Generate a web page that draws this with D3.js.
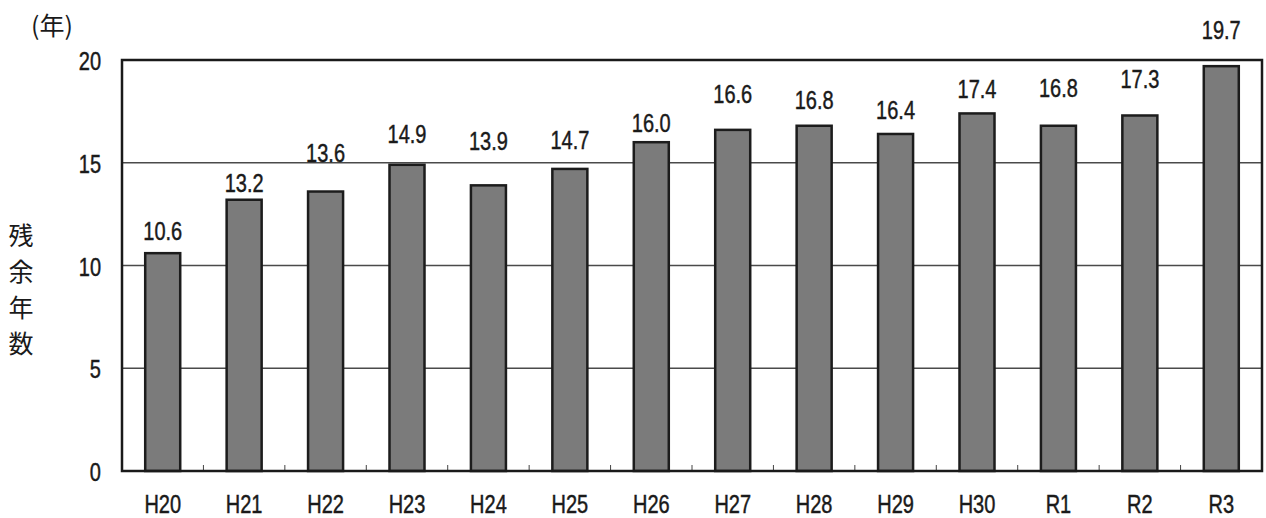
<!DOCTYPE html>
<html>
<head>
<meta charset="utf-8">
<script src="https://cdn.jsdelivr.net/npm/d3@7"></script>
<style>
  html, body { margin: 0; padding: 0; background: #fff; }
  svg { display: block; }
  .num { font-family: "Liberation Sans", Arial, sans-serif; stroke: #1a1a1a; stroke-width: 0.45px; }
  .jp { font-family: "Noto Sans CJK JP", "Noto Sans CJK SC", sans-serif; }
</style>
</head>
<body>
<svg id="chart" width="1266" height="518"></svg>
<script>
// Remaining years by fiscal year
const categories = ["H20", "H21", "H22", "H23", "H24", "H25", "H26", "H27", "H28", "H29", "H30", "R1", "R2", "R3"];
const values = [10.6, 13.2, 13.6, 14.9, 13.9, 14.7, 16.0, 16.6, 16.8, 16.4, 17.4, 16.8, 17.3, 19.7];
const yTicks = [0, 5, 10, 15, 20];
const yTitle = ["残", "余", "年", "数"];
const unitLabel = "(年)";

const svg = d3.select("#chart");
const plotL = 122, plotR = 1262, plotT = 60, plotB = 471;
const narrow = 0.8;           // horizontal squeeze for the condensed numerals
// lift (px) of each value label above its bar, hand-placed to avoid crowding
const labelLift = [13, 8, 30, 22, 35, 20, 10.5, 27, 17, 15, 15, 29, 27.5, 27];

const x = d3.scaleBand().domain(categories).range([plotL, plotR]).paddingInner(0.57).paddingOuter(0.285);
const xCat = d3.scaleBand().domain(categories).range([plotL, plotR]);
const y = d3.scaleLinear().domain([0, 20]).range([plotB, plotT]);

const place = (px, py) => `translate(${px},${py}) scale(${narrow},1)`;

// horizontal grid lines
svg.append("g").selectAll("line").data(yTicks.filter(t => t > 0 && t < 20)).join("line")
  .attr("x1", plotL).attr("x2", plotR)
  .attr("y1", d => y(d)).attr("y2", d => y(d))
  .attr("stroke", "#4a4a4a").attr("stroke-width", 1.3);

// small category separator ticks along the baseline
svg.append("g").selectAll("line").data(categories.slice(1)).join("line")
  .attr("x1", d => xCat(d)).attr("x2", d => xCat(d))
  .attr("y1", plotB).attr("y2", plotB - 6)
  .attr("stroke", "#444").attr("stroke-width", 1);

// bars
svg.append("g").selectAll("rect").data(values).join("rect")
  .attr("x", (d, i) => x(categories[i]))
  .attr("y", d => y(d))
  .attr("width", x.bandwidth())
  .attr("height", d => plotB - y(d))
  .attr("fill", "#7b7b7b")
  .attr("stroke", "#1c1c1c")
  .attr("stroke-width", 2.5);

// plot frame
svg.append("rect")
  .attr("x", plotL).attr("y", plotT)
  .attr("width", plotR - plotL).attr("height", plotB - plotT)
  .attr("fill", "none").attr("stroke", "#1a1a1a").attr("stroke-width", 2.5);

// value labels
svg.append("g").selectAll("text").data(values).join("text")
  .attr("class", "num")
  .attr("transform", (d, i) => place(x(categories[i]) + x.bandwidth() / 2, y(d) - labelLift[i]))
  .attr("text-anchor", "middle")
  .attr("font-size", 25)
  .attr("fill", "#1a1a1a")
  .text(d => d.toFixed(1));

// y tick labels
svg.append("g").selectAll("text").data(yTicks).join("text")
  .attr("class", "num")
  .attr("transform", d => place(101, y(d) + 10))
  .attr("text-anchor", "end")
  .attr("font-size", 25)
  .attr("fill", "#1a1a1a")
  .text(d => d);

// x category labels
svg.append("g").selectAll("text").data(categories).join("text")
  .attr("class", "num")
  .attr("transform", d => place(xCat(d) + xCat.bandwidth() / 2, 513))
  .attr("text-anchor", "middle")
  .attr("font-size", 25)
  .attr("fill", "#1a1a1a")
  .text(d => d);

// unit label
svg.append("text")
  .attr("class", "jp")
  .attr("x", 31).attr("y", 35)
  .attr("font-size", 25)
  .attr("fill", "#1a1a1a")
  .text(unitLabel);

// vertical axis title
svg.append("g").selectAll("text").data(yTitle).join("text")
  .attr("class", "jp")
  .attr("x", 21)
  .attr("y", (d, i) => 245 + i * 36)
  .attr("text-anchor", "middle")
  .attr("font-size", 25)
  .attr("fill", "#1a1a1a")
  .text(d => d);
</script>
</body>
</html>
